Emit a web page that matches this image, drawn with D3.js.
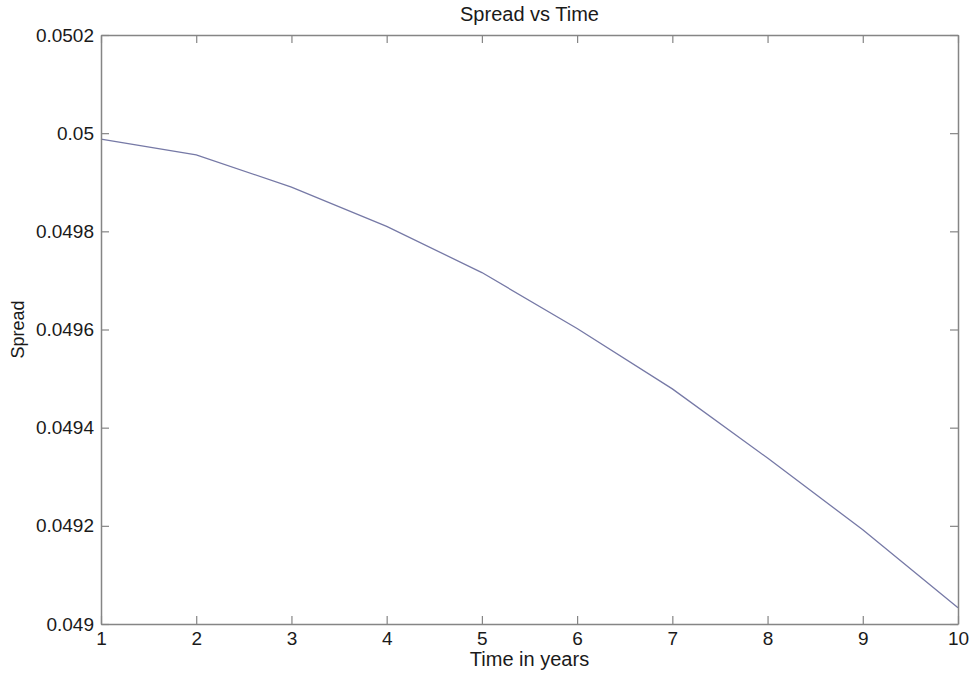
<!DOCTYPE html>
<html>
<head>
<meta charset="utf-8">
<script src="https://cdn.jsdelivr.net/npm/d3@7"></script>
<style>
  body { margin: 0; background: #fff; }
  svg text { font-family: Arial, "Liberation Sans", sans-serif; fill: #1a1a1a; }
</style>
</head>
<body>
<div id="chart"></div>
<script>
// values
const years = [1, 2, 3, 4, 5, 6, 7, 8, 9, 10];
const spread = [0.049988, 0.049956, 0.049890, 0.049810, 0.049716, 0.049602, 0.049479, 0.049338, 0.049192, 0.049033];
const x_ticks = [1, 2, 3, 4, 5, 6, 7, 8, 9, 10];
const y_ticks = [0.049, 0.0492, 0.0494, 0.0496, 0.0498, 0.05, 0.0502];

const W = 972, H = 675;
const margin = { top: 35, right: 14, bottom: 51, left: 101 },
    width = W - margin.left - margin.right,
    height = H - margin.top - margin.bottom;

const svg = d3.select("#chart").append("svg")
    .attr("width", W)
    .attr("height", H);

const plot = svg.append("g")
    .attr("transform", `translate(${margin.left},${margin.top})`);

const x_scale = d3.scaleLinear().domain([1, 10]).range([0, width]);
const y_scale = d3.scaleLinear().domain([0.049, 0.0502]).range([height, 0]);

// line
plot.append("path")
    .datum(years.map((t, i) => [t, spread[i]]))
    .attr("fill", "none")
    .attr("stroke", "#7679a6")
    .attr("stroke-width", 1.3)
    .attr("d", d3.line().x(d => x_scale(d[0])).y(d => y_scale(d[1])));

// axes, matlab style box with inward ticks
const tick = 8;
function style(g) {
    g.select(".domain").attr("stroke", "#858585").attr("stroke-width", 1.5);
    g.selectAll(".tick line").attr("stroke", "#858585").attr("stroke-width", 1.2);
    g.selectAll(".tick text").style("font-size", "19px").attr("fill", "#1a1a1a");
}

plot.append("g").attr("transform", `translate(0,${height})`)
    .call(d3.axisBottom(x_scale).tickValues(x_ticks).tickSizeInner(-tick).tickSizeOuter(0).tickPadding(8).tickFormat(d3.format("d")))
    .call(style);
plot.append("g")
    .call(d3.axisTop(x_scale).tickValues(x_ticks).tickSizeInner(-tick).tickSizeOuter(0).tickFormat(""))
    .call(style);
plot.append("g")
    .call(d3.axisLeft(y_scale).tickValues(y_ticks).tickSizeInner(-tick).tickSizeOuter(0).tickPadding(7).tickFormat(d => String(+d.toFixed(4))))
    .call(style);
plot.append("g").attr("transform", `translate(${width},0)`)
    .call(d3.axisRight(y_scale).tickValues(y_ticks).tickSizeInner(-tick).tickSizeOuter(0).tickFormat(""))
    .call(style);

// labels
svg.append("text")
    .attr("x", margin.left + width / 2)
    .attr("y", 21)
    .attr("text-anchor", "middle")
    .style("font-size", "20px")
    .text("Spread vs Time");

svg.append("text")
    .attr("x", margin.left + width / 2)
    .attr("y", 666)
    .attr("text-anchor", "middle")
    .style("font-size", "20px")
    .text("Time in years");

svg.append("text")
    .attr("transform", `translate(24,${margin.top + height / 2}) rotate(-90)`)
    .attr("text-anchor", "middle")
    .style("font-size", "18px")
    .text("Spread");
</script>
</body>
</html>
